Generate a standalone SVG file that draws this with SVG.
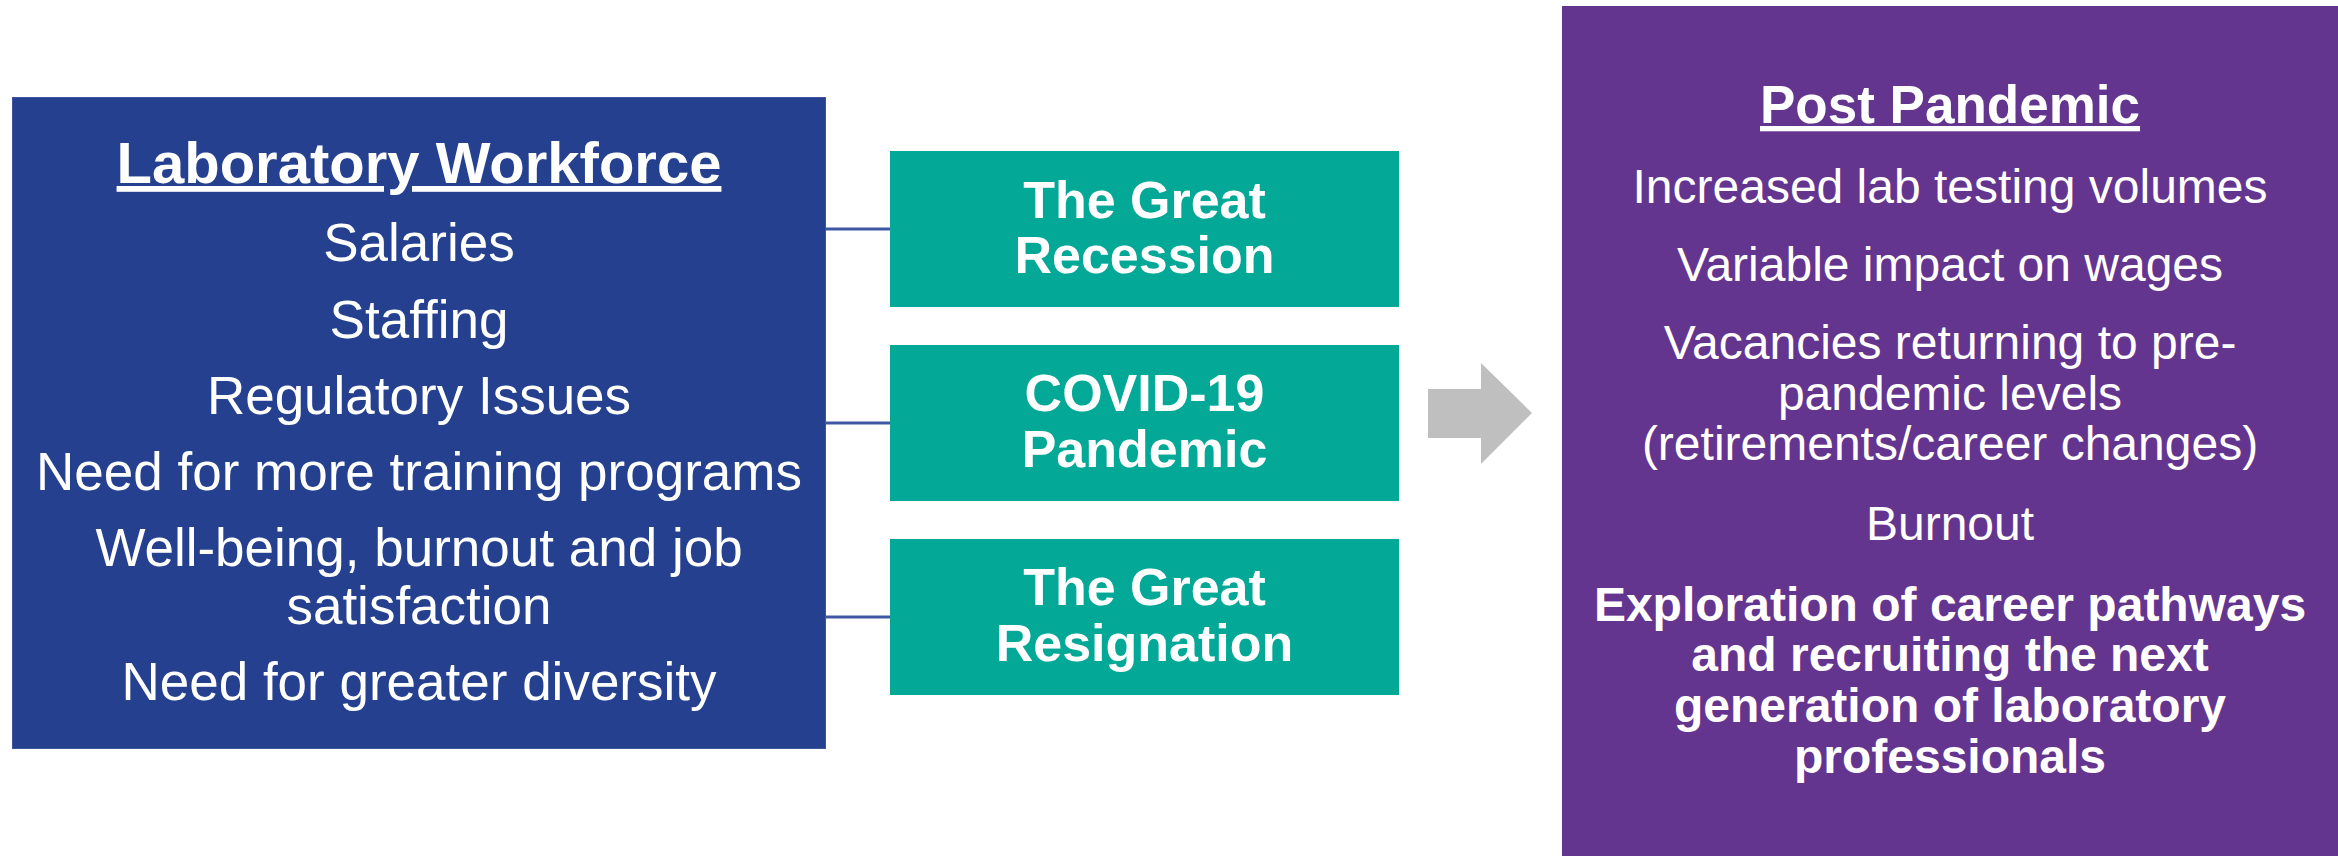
<svg xmlns="http://www.w3.org/2000/svg" width="2338" height="856" viewBox="0 0 2338 856">
<style>
text{font-family:"Liberation Sans",Arial,sans-serif;fill:#fff;text-anchor:middle}
.t{font-weight:bold;font-size:58px;text-decoration:underline}
.i{font-size:53px}
.g{font-weight:bold;font-size:52px}
.pt{font-weight:bold;font-size:53px;text-decoration:underline}
.pi{font-size:48px}
.pb{font-weight:bold;font-size:48px}
.conn{stroke:#4058a4;stroke-width:3;fill:none}
</style>
<rect width="2338" height="856" fill="#fff"/>
<g id="connectors">
<line class="conn" x1="826" y1="229" x2="890" y2="229"/>
<line class="conn" x1="826" y1="423" x2="890" y2="423"/>
<line class="conn" x1="826" y1="617" x2="890" y2="617"/>
</g>
<g id="workforce">
<rect x="12.5" y="97.5" width="813" height="651" fill="#25408f" stroke="#3d55a0" stroke-width="1"/>
<text class="t" x="419" y="183">Laboratory Workforce</text>
<text class="i" x="419" y="261">Salaries</text>
<text class="i" x="419" y="338">Staffing</text>
<text class="i" x="419" y="414">Regulatory Issues</text>
<text class="i" x="419" y="490">Need for more training programs</text>
<text class="i" x="419" y="566">Well-being, burnout and job</text>
<text class="i" x="419" y="624">satisfaction</text>
<text class="i" x="419" y="700">Need for greater diversity</text>
</g>
<g id="recession">
<rect x="890" y="151" width="509" height="156" fill="#03a896"/>
<text class="g" x="1144.5" y="218">The Great</text>
<text class="g" x="1144.5" y="273">Recession</text>
</g>
<g id="covid">
<rect x="890" y="345" width="509" height="156" fill="#03a896"/>
<text class="g" x="1144.5" y="411">COVID-19</text>
<text class="g" x="1144.5" y="467">Pandemic</text>
</g>
<g id="resignation">
<rect x="890" y="539" width="509" height="156" fill="#03a896"/>
<text class="g" x="1144.5" y="605">The Great</text>
<text class="g" x="1144.5" y="661">Resignation</text>
</g>
<g id="arrow">
<polygon points="1428,389 1481,389 1481,363 1532,413 1481,464 1481,438 1428,438" fill="#bfbfbf"/>
</g>
<g id="postpandemic">
<rect x="1562" y="6" width="776" height="850" fill="#64358f"/>
<text class="pt" x="1950" y="123">Post Pandemic</text>
<text class="pi" x="1950" y="203">Increased lab testing volumes</text>
<text class="pi" x="1950" y="281">Variable impact on wages</text>
<text class="pi" x="1950" y="359">Vacancies returning to pre-</text>
<text class="pi" x="1950" y="410">pandemic levels</text>
<text class="pi" x="1950" y="460">(retirements/career changes)</text>
<text class="pi" x="1950" y="540">Burnout</text>
<text class="pb" x="1950" y="621">Exploration of career pathways</text>
<text class="pb" x="1950" y="671">and recruiting the next</text>
<text class="pb" x="1950" y="722">generation of laboratory</text>
<text class="pb" x="1950" y="773">professionals</text>
</g>
</svg>
